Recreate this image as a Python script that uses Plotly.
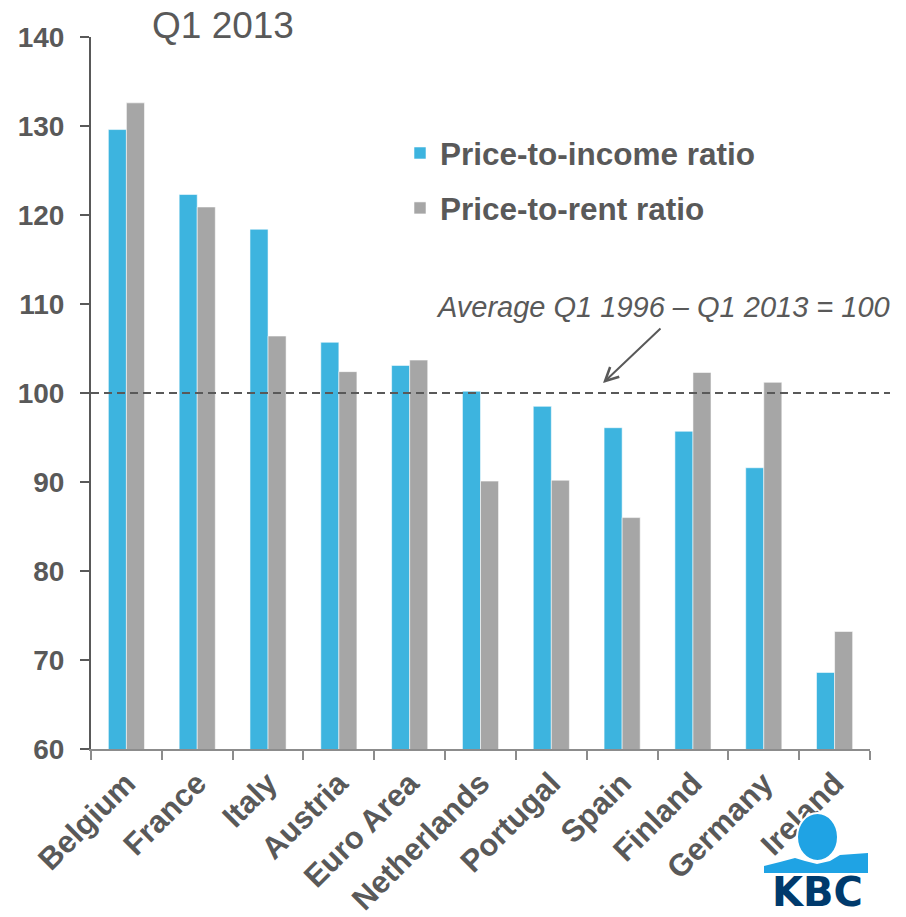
import plotly.graph_objects as go

# ---- data ----
countries = ["Belgium", "France", "Italy", "Austria", "Euro Area", "Netherlands",
             "Portugal", "Spain", "Finland", "Germany", "Ireland"]
price_to_income = [129.6, 122.3, 118.4, 105.7, 103.1, 100.2, 98.5, 96.1, 95.7, 91.6, 68.6]
price_to_rent = [132.6, 120.9, 106.4, 102.4, 103.7, 90.1, 90.2, 86.0, 102.3, 101.2, 73.2]
y_ticks = [60, 70, 80, 90, 100, 110, 120, 130, 140]
average_level = 100
title_text = "Q1 2013"
avg_text = "Average Q1 1996 \u2013 Q1 2013 = 100"

TXT = "#595959"
BLUE = "#3DB4DF"
GREY = "#A6A6A6"
FONT = "Liberation Sans, Arial, sans-serif"

W, H = 906, 917
ML, MR, MT, MB = 91, 36, 37, 168
PW, PH = W - ML - MR, H - MT - MB


def P(px, py):
    """pixel -> paper coordinates (for decoration placement)"""
    return (px - ML) / PW, (H - MB - py) / PH


fig = go.Figure()
fig.add_trace(go.Bar(
    x=countries, y=price_to_income, name="Price-to-income ratio",
    marker=dict(color=BLUE, line=dict(color="rgba(255,255,255,0.55)", width=1)),
    legendgroup="a"))
fig.add_trace(go.Bar(
    x=countries, y=price_to_rent, name="Price-to-rent ratio",
    marker=dict(color=GREY, line=dict(color="rgba(255,255,255,0.55)", width=1)),
    legendgroup="b"))

shapes = []
# dashed average line
x1p, _ = P(890, 0)
shapes.append(dict(type="line", xref="paper", yref="y", x0=0, x1=x1p,
                   y0=average_level, y1=average_level,
                   line=dict(color=TXT, width=1.8, dash="8px,5px"), layer="above"))

# KBC logo (decoration)
cx0, cy0 = P(797, 813)
cx1, cy1 = P(838, 861)
band_pts = [(764, 866), (780, 862), (795, 858), (805, 861), (817, 864), (830, 861),
            (840, 855), (868, 853), (868, 873), (764, 873)]
path = "M " + " L ".join("%.5f,%.5f" % P(x, y) for x, y in band_pts) + " Z"
shapes.append(dict(type="path", xref="paper", yref="paper", path=path,
                   fillcolor="#1FA3E4", line=dict(width=0)))
shapes.append(dict(type="circle", xref="paper", yref="paper", x0=cx0, y0=cy0, x1=cx1, y1=cy1,
                   fillcolor="#1FA3E4", line=dict(color="white", width=2)))

annotations = []
tx, ty = P(150, 25)
annotations.append(dict(text=title_text, xref="paper", yref="paper", x=tx, y=ty,
                        xanchor="left", yanchor="middle", showarrow=False,
                        font=dict(family=FONT, size=37, color=TXT)))
ax_, ay_ = P(892, 307)
annotations.append(dict(text=avg_text, xref="paper", yref="paper", x=ax_, y=ay_,
                        xanchor="right", yanchor="middle", showarrow=False,
                        font=dict(family=FONT, size=29, color=TXT, style="italic")))
hx, hy = P(603, 383)
annotations.append(dict(text="", xref="paper", yref="paper", x=hx, y=hy,
                        ax=59, ay=-56, showarrow=True, arrowhead=5, arrowsize=1.3,
                        arrowwidth=2, arrowcolor=TXT))
kx, ky = P(817, 892)
annotations.append(dict(text="KBC", xref="paper", yref="paper", x=kx, y=ky,
                        xanchor="center", yanchor="middle", showarrow=False,
                        borderpad=0,
                        font=dict(family="DejaVu Sans, sans-serif", size=40, color="#003A6C",
                                  weight="bold")))

lx, ly = P(400, 126)
fig.update_layout(
    width=W, height=H,
    margin=dict(l=ML, r=MR, t=MT, b=MB, pad=0, autoexpand=False),
    paper_bgcolor="white", plot_bgcolor="white",
    barmode="group", bargap=0.49, bargroupgap=0,
    showlegend=True,
    legend=dict(x=lx, y=ly, xanchor="left", yanchor="top",
                font=dict(family=FONT, size=31.5, color=TXT, weight="bold"),
                traceorder="grouped", tracegroupgap=11, itemwidth=30,
                bgcolor="rgba(0,0,0,0)"),
    shapes=shapes, annotations=annotations,
    font=dict(family=FONT, color=TXT),
)
fig.update_yaxes(range=[60, 140], tickvals=y_ticks, showgrid=False, zeroline=False,
                 showline=True, linecolor=TXT, linewidth=2, automargin=False,
                 ticks="outside", ticklen=9, tickwidth=2, tickcolor=TXT,
                 ticklabelstandoff=10,
                 tickfont=dict(family=FONT, size=28, color=TXT, weight="bold"))
fig.update_xaxes(range=[-0.5, len(countries) - 0.5], showgrid=False, zeroline=False,
                 showline=True, linecolor="#8C8C8C", linewidth=1.5, automargin=False,
                 ticks="outside", tickson="boundaries", ticklen=9, tickwidth=1.5,
                 tickcolor="#8C8C8C", tickangle=-45, ticklabelstandoff=2,
                 tickfont=dict(family=FONT, size=31, color=TXT, weight="bold"))

fig.write_html("out.html")
